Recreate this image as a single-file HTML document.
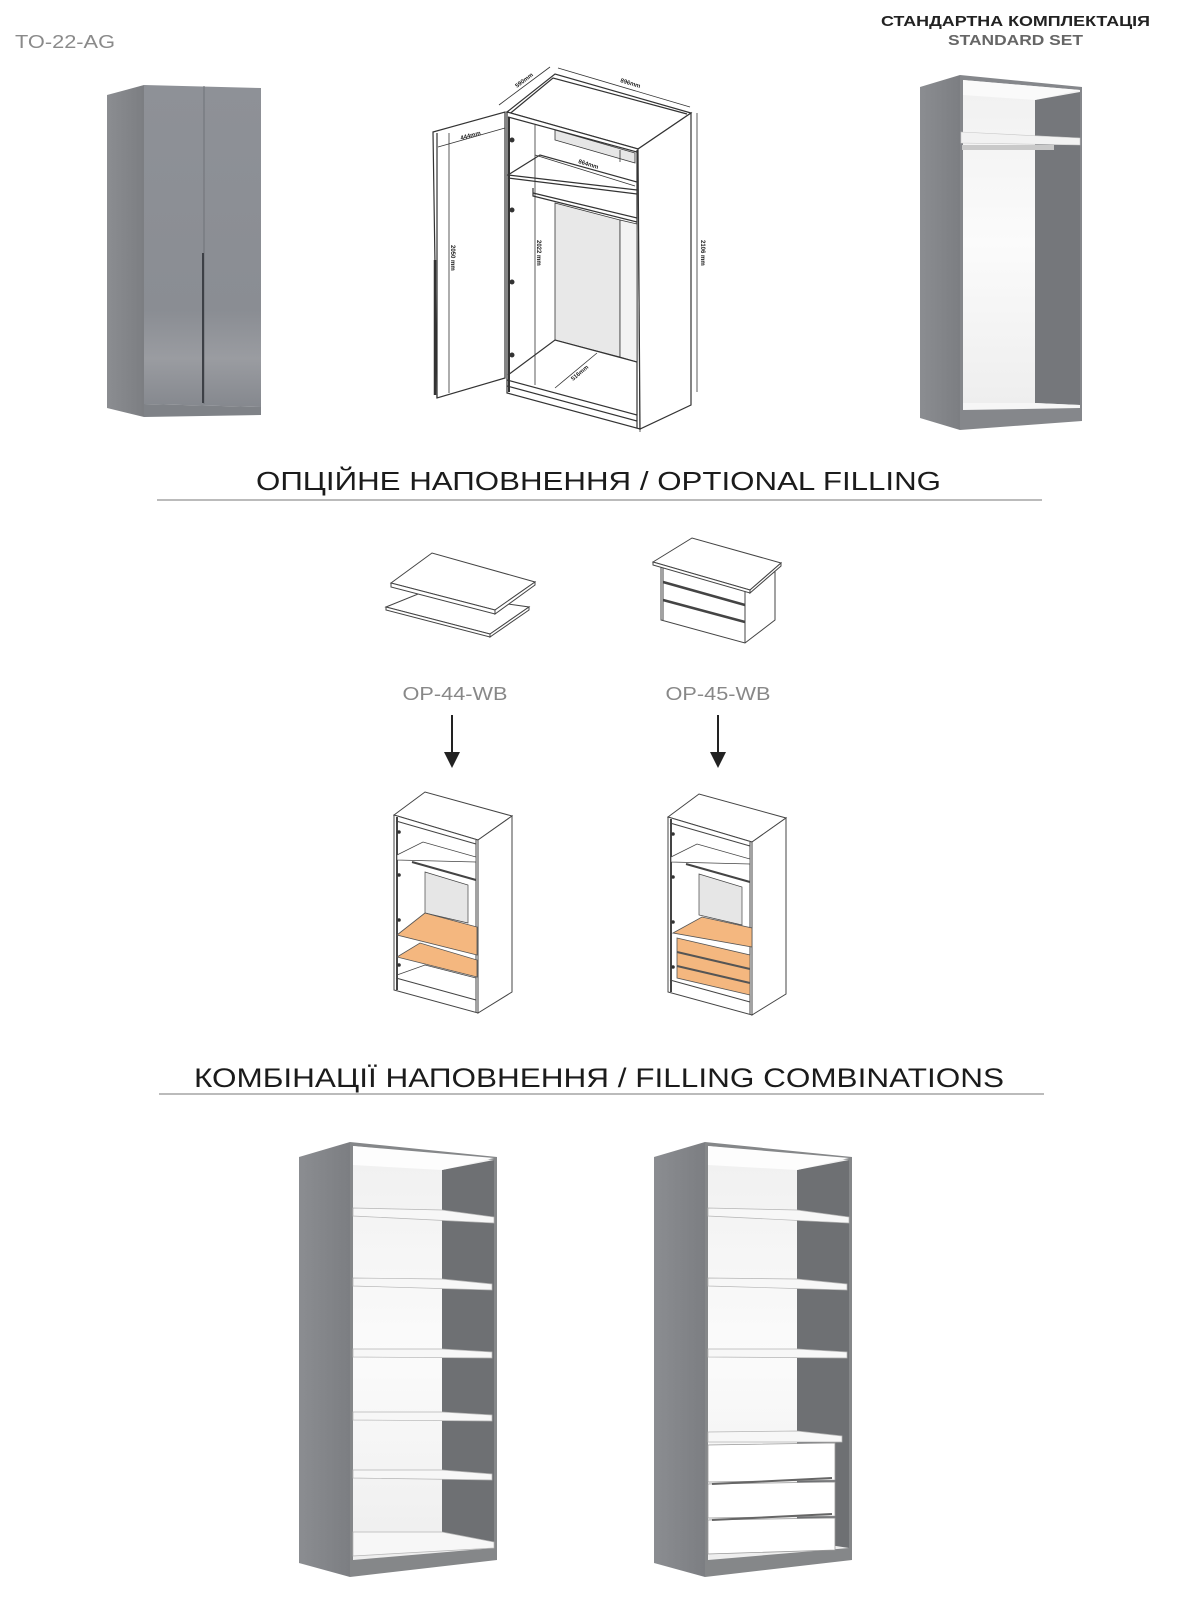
<!DOCTYPE html>
<html><head><meta charset="utf-8">
<style>
html,body{margin:0;padding:0;background:#fff;}
svg{display:block;}
</style></head>
<body>
<svg width="1197" height="1619" viewBox="0 0 1197 1619" xmlns="http://www.w3.org/2000/svg" font-family="'Liberation Sans', 'Noto Sans CJK SC', sans-serif">
<defs>
<linearGradient id="gf" x1="0" y1="0" x2="0" y2="1">
<stop offset="0" stop-color="#8e9197"/><stop offset="0.7" stop-color="#8a8d93"/><stop offset="0.85" stop-color="#9a9ca1"/><stop offset="1" stop-color="#85888e"/></linearGradient>
<linearGradient id="gs" x1="0" y1="0" x2="1" y2="0">
<stop offset="0" stop-color="#8b8d91"/><stop offset="1" stop-color="#7c7e82"/></linearGradient>
<linearGradient id="gw" x1="0" y1="0" x2="0" y2="1">
<stop offset="0" stop-color="#f0f0f0"/><stop offset="0.5" stop-color="#fbfbfb"/><stop offset="1" stop-color="#eeeeee"/></linearGradient>
</defs>

<text x="15" y="48" font-size="18" fill="#8a8a8a" textLength="100" lengthAdjust="spacingAndGlyphs">TO-22-AG</text>
<text x="881" y="26" font-size="15" font-weight="bold" fill="#222" textLength="269" lengthAdjust="spacingAndGlyphs">СТАНДАРТНА КОМПЛЕКТАЦІЯ</text>
<text x="948" y="45" font-size="15" font-weight="bold" fill="#666" textLength="135" lengthAdjust="spacingAndGlyphs">STANDARD SET</text>

<!-- closed wardrobe -->
<polygon points="107,95 144,85 144,417 107,408" fill="url(#gs)"/>
<polygon points="144,85 261,88 261,407 144,404" fill="url(#gf)"/>
<polygon points="144,404 261,407 261,415 144,417" fill="#7f8287"/>
<line x1="204" y1="86" x2="204" y2="404" stroke="#6f7278" stroke-width="1"/>
<line x1="203" y1="253" x2="203" y2="403" stroke="#3d4046" stroke-width="2"/>

<!-- line drawing wardrobe -->
<g fill="none" stroke="#333" stroke-width="1.2">
<polygon points="433,132 505,112 505,378 437,398" fill="#fff"/>
<line x1="437" y1="133" x2="437" y2="398"/>
<line x1="435" y1="260" x2="435" y2="395" stroke-width="2.5"/>
<polygon points="507,112 555,74 691,113 638,149" fill="#fff"/>
<polyline points="507,116 553,78 687,114"/>
<polygon points="507,112 638,149 640,429 507,393" fill="#fff"/>
<polygon points="638,149 691,113 691,405 640,429" fill="#fff"/>
<line x1="637" y1="150" x2="637" y2="428"/>
<line x1="509" y1="117" x2="509" y2="392" stroke-width="2"/>
<polyline points="508,117 637,152"/>
<polygon points="555,130 635,153 635,163 555,140" fill="#e6e6e6" stroke-width="0.8"/>
<line x1="620" y1="150" x2="620" y2="162" stroke-width="0.8"/>
<polygon points="508,175 540,155 637,182 637,190" fill="#fff"/>
<line x1="508" y1="178" x2="637" y2="194"/>
<polyline points="533,188 533,196 637,222"/>
<line x1="533" y1="193" x2="637" y2="218"/>
<polygon points="555,203 620,220 620,357 555,340" fill="#e8e8e8" stroke-width="0.8"/>
<polygon points="620,220 637,224 637,362 620,357" fill="#f3f3f3" stroke-width="0.8"/>
<polyline points="508,375 555,340 637,362"/>
<line x1="507" y1="380" x2="637" y2="415"/>
<line x1="507" y1="386" x2="637" y2="421"/>
</g>
<g fill="#333">
<circle cx="512" cy="140" r="2.5"/><circle cx="512" cy="210" r="2.5"/><circle cx="512" cy="282" r="2.5"/><circle cx="512" cy="355" r="2.5"/>
</g>
<g stroke="#333" stroke-width="0.8" fill="none">
<line x1="697" y1="113" x2="697" y2="392"/>
<line x1="558" y1="68" x2="690" y2="107"/>
<line x1="499" y1="105" x2="550" y2="67"/>
<line x1="438" y1="147" x2="505" y2="128"/>
<line x1="449" y1="133" x2="449" y2="393"/>
<line x1="535" y1="125" x2="535" y2="385"/>
<line x1="535" y1="155" x2="635" y2="186"/>
<line x1="555" y1="388" x2="597" y2="353"/>
<line x1="640" y1="414" x2="640" y2="432"/>
</g>
<g font-size="6" fill="#222" font-weight="bold">
<text transform="translate(701,240) rotate(90)">2106 mm</text>
<text transform="translate(620,82) rotate(17)">896mm</text>
<text transform="translate(517,88) rotate(-37)">590mm</text>
<text transform="translate(461,140) rotate(-15)">444mm</text>
<text transform="translate(451,245) rotate(90)">2050 mm</text>
<text transform="translate(537,240) rotate(90)">2022 mm</text>
<text transform="translate(578,163) rotate(17)">864mm</text>
<text transform="translate(573,381) rotate(-40)">516mm</text>
</g>

<!-- open cabinet standard set -->
<polygon points="920,87 960,75 960,430 920,418" fill="url(#gs)"/>
<polygon points="960,75 1082,87 1082,421 960,430" fill="#85878b"/>
<polygon points="963,80 1080,90 1080,405 963,405" fill="url(#gw)"/>
<polygon points="1035,100 1080,92 1080,405 1035,403" fill="#75777b"/>
<polygon points="963,80 1080,90 1035,100 963,95" fill="#fafafa"/>
<polygon points="961,132 1080,138 1080,145 961,143" fill="#f2f2f2" stroke="#c8c8c8" stroke-width="0.6"/>
<rect x="962" y="145" width="92" height="5" fill="#c9c9c9"/>
<polygon points="963,403 1035,403 1080,405 1080,408 963,410" fill="#f6f6f6"/>

<text x="256" y="490" font-size="26" fill="#1b1b1b" textLength="685" lengthAdjust="spacingAndGlyphs">ОПЦІЙНЕ НАПОВНЕННЯ / OPTIONAL FILLING</text>
<line x1="157" y1="500" x2="1042" y2="500" stroke="#777" stroke-width="1"/>

<!-- shelves icon -->
<g fill="#fff" stroke="#444" stroke-width="1">
<polygon points="386,607 423,592 529,607 490,634"/>
<polygon points="386,607 490,634 490,637 386,610"/>
<polygon points="490,634 529,607 529,610 490,637"/>
<polygon points="391,583 432,553 535,582 495,610"/>
<polygon points="391,583 495,610 495,614 391,587"/>
<polygon points="495,610 535,582 535,585 495,614"/>
</g>
<!-- drawer icon -->
<g fill="#fff" stroke="#444" stroke-width="1">
<polygon points="661,565 745,590 775,566 775,620 745,643 661,620"/>
<line x1="745" y1="590" x2="745" y2="643"/>
<line x1="663" y1="567" x2="663" y2="620"/>
<polyline points="663,582 745,605" stroke-width="2.5"/>
<polyline points="663,600 745,622" stroke-width="2.5"/>
<polygon points="653,562 692,538 781,563 750,590"/>
<polygon points="653,562 750,590 750,593 653,565"/>
<polygon points="750,590 781,563 781,566 750,593"/>
</g>

<text x="455" y="700" font-size="18" fill="#888" text-anchor="middle" textLength="105" lengthAdjust="spacingAndGlyphs">OP-44-WB</text>
<text x="718" y="700" font-size="18" fill="#888" text-anchor="middle" textLength="105" lengthAdjust="spacingAndGlyphs">OP-45-WB</text>
<line x1="452" y1="715" x2="452" y2="755" stroke="#222" stroke-width="2"/>
<polygon points="444,752 460,752 452,768" fill="#222"/>
<line x1="718" y1="715" x2="718" y2="755" stroke="#222" stroke-width="2"/>
<polygon points="710,752 726,752 718,768" fill="#222"/>

<!-- sketch cabinet 1 -->
<g fill="#fff" stroke="#444" stroke-width="1">
<polygon points="394,815 425,792 512,816 478,840"/>
<polygon points="394,815 478,840 478,1013 394,990"/>
<polygon points="478,840 512,816 512,992 478,1013"/>
<line x1="397" y1="817" x2="397" y2="990" stroke-width="2"/>
<line x1="476" y1="840" x2="476" y2="1012"/>
<line x1="396" y1="821" x2="476" y2="844"/>
<polygon points="425,872 468,885 468,923 425,913" fill="#e6e6e6" stroke-width="0.7"/>
<polygon points="397,855 423,842 476,857 476,862 397,860" stroke-width="0.8"/>
<line x1="412" y1="862" x2="476" y2="880" stroke-width="2"/>
<line x1="396" y1="978" x2="476" y2="1000"/>
<polyline points="397,975 425,965 476,978" stroke-width="0.8"/>
</g>
<g fill="#f4b77f" stroke="#555" stroke-width="0.8">
<polygon points="397,935 425,913 477,927 477,955"/>
<polygon points="397,957 420,943 477,960 477,977"/>
</g>
<g fill="#333"><circle cx="399" cy="832" r="1.8"/><circle cx="399" cy="875" r="1.8"/><circle cx="399" cy="920" r="1.8"/><circle cx="399" cy="965" r="1.8"/></g>

<!-- sketch cabinet 2 -->
<g fill="#fff" stroke="#444" stroke-width="1">
<polygon points="668,817 699,794 786,818 752,842"/>
<polygon points="668,817 752,842 752,1015 668,992"/>
<polygon points="752,842 786,818 786,994 752,1015"/>
<line x1="671" y1="819" x2="671" y2="992" stroke-width="2"/>
<line x1="750" y1="842" x2="750" y2="1014"/>
<line x1="670" y1="823" x2="750" y2="846"/>
<polygon points="699,874 742,887 742,925 699,915" fill="#e6e6e6" stroke-width="0.7"/>
<polygon points="671,857 697,844 750,859 750,864 671,862" stroke-width="0.8"/>
<line x1="686" y1="864" x2="750" y2="882" stroke-width="2"/>
<line x1="670" y1="980" x2="750" y2="1002"/>
</g>
<g fill="#f4b77f" stroke="#555" stroke-width="0.8">
<polygon points="673,933 702,917 752,928 752,947"/>
<polygon points="677,938 750,955 750,995 677,978"/>
<line x1="677" y1="952" x2="750" y2="969" stroke-width="2"/>
<line x1="677" y1="966" x2="750" y2="983" stroke-width="2"/>
</g>
<g fill="#333"><circle cx="673" cy="834" r="1.8"/><circle cx="673" cy="877" r="1.8"/><circle cx="673" cy="922" r="1.8"/><circle cx="673" cy="967" r="1.8"/></g>

<text x="194" y="1087" font-size="27" fill="#1b1b1b" textLength="810" lengthAdjust="spacingAndGlyphs">КОМБІНАЦІЇ НАПОВНЕННЯ / FILLING COMBINATIONS</text>
<line x1="159" y1="1094" x2="1044" y2="1094" stroke="#777" stroke-width="1"/>

<!-- bottom cabinet left -->
<g>
<polygon points="299,1157 350,1142 350,1577 299,1563" fill="url(#gs)"/>
<polygon points="350,1142 497,1157 497,1560 350,1577" fill="#858789"/>
<polygon points="353,1146 494,1160 494,1548 353,1560" fill="url(#gw)"/>
<polygon points="442,1170 494,1160 494,1548 442,1540" fill="#6e7073"/>
<polygon points="353,1146 494,1158 442,1170 353,1165" fill="#fdfdfd"/>
<g fill="#f7f7f7" stroke="#b5b5b5" stroke-width="0.7">
<polygon points="353,1208 442,1210 494,1217 494,1223 353,1216"/>
<polygon points="353,1278 442,1279 492,1284 492,1290 353,1286"/>
<polygon points="353,1349 442,1349 492,1352 492,1358 353,1357"/>
<polygon points="353,1412 442,1412 492,1415 492,1421 353,1420"/>
<polygon points="353,1470 442,1470 492,1474 492,1480 353,1478"/>
<polygon points="353,1532 442,1532 494,1542 494,1548 353,1556"/>
</g>
</g>
<!-- bottom cabinet right -->
<g>
<polygon points="654,1157 705,1142 705,1577 654,1563" fill="url(#gs)"/>
<polygon points="705,1142 852,1157 852,1560 705,1577" fill="#858789"/>
<polygon points="708,1146 849,1160 849,1548 708,1560" fill="url(#gw)"/>
<polygon points="797,1170 849,1160 849,1548 797,1540" fill="#6e7073"/>
<polygon points="708,1146 849,1158 797,1170 708,1165" fill="#fdfdfd"/>
<g fill="#f7f7f7" stroke="#b5b5b5" stroke-width="0.7">
<polygon points="708,1208 797,1210 849,1217 849,1223 708,1216"/>
<polygon points="708,1278 797,1279 847,1284 847,1290 708,1286"/>
<polygon points="708,1349 797,1349 847,1352 847,1358 708,1357"/>
<polygon points="708,1432 797,1431 842,1436 842,1442 708,1442"/>
</g>
<g fill="#fff" stroke="#9a9a9a" stroke-width="0.8">
<polygon points="708,1445 835,1443 835,1480 708,1482"/>
<polygon points="708,1484 835,1482 835,1516 708,1518"/>
<polygon points="708,1520 835,1518 835,1550 708,1554"/>
</g>
<line x1="712" y1="1484" x2="832" y2="1478" stroke="#666" stroke-width="2"/>
<line x1="712" y1="1520" x2="832" y2="1514" stroke="#666" stroke-width="2"/>
</g>
</svg>
</body></html>
